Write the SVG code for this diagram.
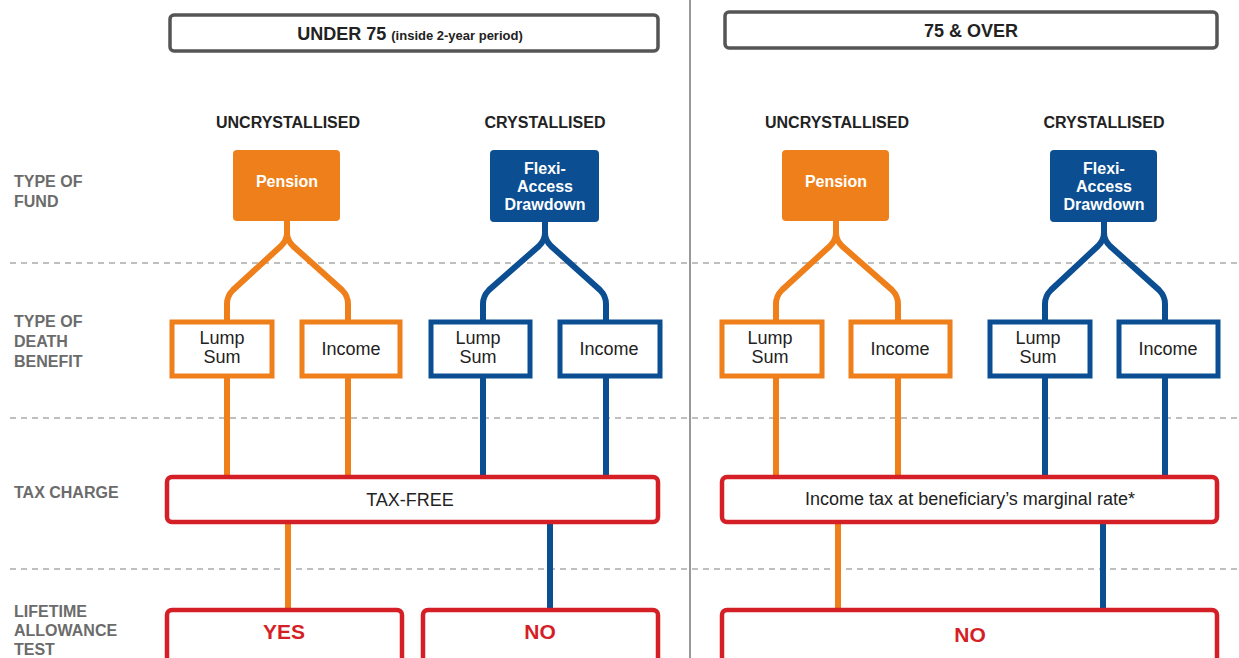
<svg xmlns="http://www.w3.org/2000/svg" width="1239" height="658" viewBox="0 0 1239 658">
<style>
text{font-family:"Liberation Sans",Arial,sans-serif;font-weight:bold}
.hdr{fill:#fff;stroke:#555;stroke-width:3.5}
.row{fill:#6b6b6b;font-size:16px}
.col{fill:#222;font-size:16px;text-anchor:middle}
.fundO{fill:#EE7F1A}
.fundB{fill:#0B4E92}
.ft{fill:#fff;font-size:16px;text-anchor:middle}
.boxO{fill:#fff;stroke:#EE7F1A;stroke-width:5}
.boxB{fill:#fff;stroke:#0B4E92;stroke-width:5}
.bt{fill:#222;font-size:18px;text-anchor:middle;font-weight:normal}
.red{fill:#fff;stroke:#D51F26;stroke-width:4.5}
.rt{fill:#222;font-size:18px;text-anchor:middle;font-weight:normal}
.big{fill:#D51F26;font-size:21px;text-anchor:middle}
.dash{stroke:#aaa;stroke-width:1.5;stroke-dasharray:6 5}
.cO{fill:none;stroke:#EE7F1A;stroke-width:6}
.cB{fill:none;stroke:#0B4E92;stroke-width:6}
</style>
<rect width="1239" height="658" fill="#fff"/>
<g id="grid">
<line class="dash" x1="10" y1="263" x2="1239" y2="263"/>
<line class="dash" x1="10" y1="418" x2="1239" y2="418"/>
<line class="dash" x1="10" y1="569" x2="1239" y2="569"/>
<line x1="690" y1="0" x2="690" y2="658" stroke="#999" stroke-width="2"/>
</g>
<g id="row-labels">
<text class="row" x="14" y="187">TYPE OF</text>
<text class="row" x="14" y="207">FUND</text>
<text class="row" x="14" y="327">TYPE OF</text>
<text class="row" x="14" y="347">DEATH</text>
<text class="row" x="14" y="367">BENEFIT</text>
<text class="row" x="14" y="498">TAX CHARGE</text>
<text class="row" x="14" y="617">LIFETIME</text>
<text class="row" x="14" y="636">ALLOWANCE</text>
<text class="row" x="14" y="655">TEST</text>
</g>
<g id="header-under75">
<rect class="hdr" x="170" y="15" width="488" height="36" rx="4"/>
<text x="410" y="40" text-anchor="middle" fill="#222" font-size="18">UNDER 75 <tspan font-size="13">(inside 2-year period)</tspan></text>
</g>
<g id="header-75over">
<rect class="hdr" x="725" y="12" width="492" height="36" rx="4"/>
<text x="971" y="37" text-anchor="middle" fill="#222" font-size="18">75 &amp; OVER</text>
</g>
<g id="col-labels">
<text class="col" x="288" y="128">UNCRYSTALLISED</text>
<text class="col" x="545" y="128">CRYSTALLISED</text>
<text class="col" x="837" y="128">UNCRYSTALLISED</text>
<text class="col" x="1104" y="128">CRYSTALLISED</text>
</g>
<g id="connectors">
<path class="cO" d="M287,221 V233 Q287,240 281,246 L233,290 Q227,296 227,304 V321"/>
<path class="cO" d="M287,221 V233 Q287,240 293,246 L342,290 Q348,296 348,304 V321"/>
<path class="cB" d="M545,221 V233 Q545,240 539,246 L489,290 Q483,296 483,304 V321"/>
<path class="cB" d="M545,221 V233 Q545,240 551,246 L600,290 Q606,296 606,304 V321"/>
<path class="cO" d="M836,221 V233 Q836,240 830,246 L782,290 Q776,296 776,304 V321"/>
<path class="cO" d="M836,221 V233 Q836,240 842,246 L892,290 Q898,296 898,304 V321"/>
<path class="cB" d="M1104,221 V233 Q1104,240 1098,246 L1051,290 Q1045,296 1045,304 V321"/>
<path class="cB" d="M1104,221 V233 Q1104,240 1110,246 L1159,290 Q1165,296 1165,304 V321"/>
<line class="cO" x1="227" y1="376" x2="227" y2="477" stroke-width="5"/>
<line class="cO" x1="348" y1="376" x2="348" y2="477" stroke-width="5"/>
<line class="cB" x1="483" y1="376" x2="483" y2="477" stroke-width="5"/>
<line class="cB" x1="606" y1="376" x2="606" y2="477" stroke-width="5"/>
<line class="cO" x1="776" y1="376" x2="776" y2="477" stroke-width="5"/>
<line class="cO" x1="898" y1="376" x2="898" y2="477" stroke-width="5"/>
<line class="cB" x1="1045" y1="376" x2="1045" y2="477" stroke-width="5"/>
<line class="cB" x1="1165" y1="376" x2="1165" y2="477" stroke-width="5"/>
<line class="cO" x1="288" y1="522" x2="288" y2="610" stroke-width="5"/>
<line class="cB" x1="550" y1="522" x2="550" y2="610" stroke-width="5"/>
<line class="cO" x1="838" y1="522" x2="838" y2="610" stroke-width="5"/>
<line class="cB" x1="1103" y1="522" x2="1103" y2="610" stroke-width="5"/>
</g>
<g id="pension-l">
<rect class="fundO" x="233" y="150" width="107" height="71" rx="4"/>
<text class="ft" x="287" y="187">Pension</text>
</g>
<g id="fad-l">
<rect class="fundB" x="490" y="150" width="109" height="72" rx="4"/>
<text class="ft" x="545" y="174">Flexi-</text>
<text class="ft" x="545" y="192">Access</text>
<text class="ft" x="545" y="210">Drawdown</text>
</g>
<g id="pension-r">
<rect class="fundO" x="782" y="150" width="107" height="71" rx="4"/>
<text class="ft" x="836" y="187">Pension</text>
</g>
<g id="fad-r">
<rect class="fundB" x="1050" y="150" width="107" height="72" rx="4"/>
<text class="ft" x="1104" y="174">Flexi-</text>
<text class="ft" x="1104" y="192">Access</text>
<text class="ft" x="1104" y="210">Drawdown</text>
</g>
<g id="lump-lo">
<rect class="boxO" x="172" y="322" width="100" height="54"/>
<text class="bt" x="222" y="344">Lump</text>
<text class="bt" x="222" y="363">Sum</text>
</g>
<g id="income-lo">
<rect class="boxO" x="302" y="322" width="98" height="54"/>
<text class="bt" x="351" y="355">Income</text>
</g>
<g id="lump-lb">
<rect class="boxB" x="431" y="322" width="99" height="54"/>
<text class="bt" x="478" y="344">Lump</text>
<text class="bt" x="478" y="363">Sum</text>
</g>
<g id="income-lb">
<rect class="boxB" x="560" y="322" width="100" height="54"/>
<text class="bt" x="609" y="355">Income</text>
</g>
<g id="lump-ro">
<rect class="boxO" x="722" y="322" width="100" height="54"/>
<text class="bt" x="770" y="344">Lump</text>
<text class="bt" x="770" y="363">Sum</text>
</g>
<g id="income-ro">
<rect class="boxO" x="851" y="322" width="99" height="54"/>
<text class="bt" x="900" y="355">Income</text>
</g>
<g id="lump-rb">
<rect class="boxB" x="990" y="322" width="100" height="54"/>
<text class="bt" x="1038" y="344">Lump</text>
<text class="bt" x="1038" y="363">Sum</text>
</g>
<g id="income-rb">
<rect class="boxB" x="1119" y="322" width="99" height="54"/>
<text class="bt" x="1168" y="355">Income</text>
</g>
<g id="tax-free">
<rect class="red" x="167" y="477" width="491" height="45" rx="5"/>
<text class="rt" x="410" y="506">TAX-FREE</text>
</g>
<g id="tax-income">
<rect class="red" x="722" y="477" width="495" height="45" rx="5"/>
<text class="rt" x="970" y="505" font-size="16">Income tax at beneficiary’s marginal rate*</text>
</g>
<g id="lta-yes">
<rect class="red" x="167" y="610" width="235" height="60" rx="5"/>
<text class="big" x="284" y="639">YES</text>
</g>
<g id="lta-no-l">
<rect class="red" x="423" y="610" width="235" height="60" rx="5"/>
<text class="big" x="540" y="639">NO</text>
</g>
<g id="lta-no-r">
<rect class="red" x="722" y="610" width="495" height="60" rx="5"/>
<text class="big" x="970" y="642" font-weight="normal">NO</text>
</g>
</svg>
